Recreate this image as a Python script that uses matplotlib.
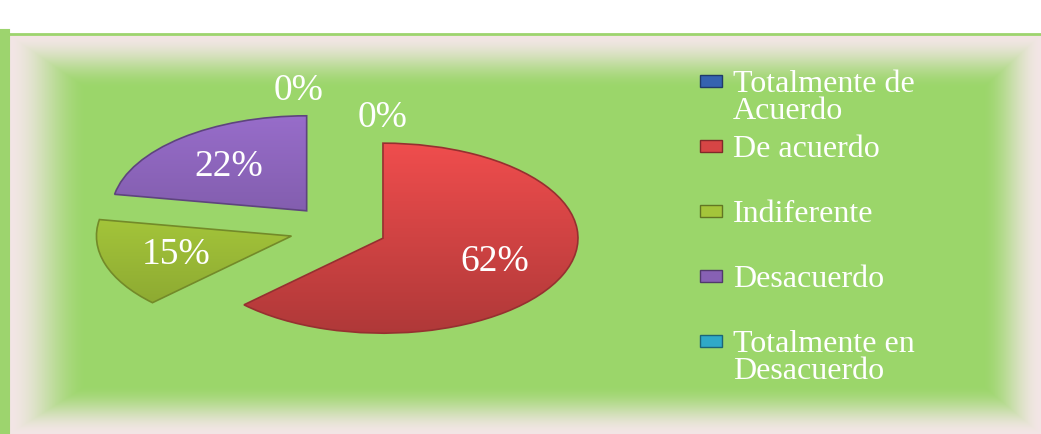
import numpy as np
import matplotlib.pyplot as plt
from matplotlib.colors import to_rgb
from matplotlib.patches import Rectangle

# data
categories = ['Totalmente de Acuerdo', 'De acuerdo', 'Indiferente',
              'Desacuerdo', 'Totalmente en Desacuerdo']
legend_labels = ['Totalmente de\nAcuerdo', 'De acuerdo', 'Indiferente',
                 'Desacuerdo', 'Totalmente en\nDesacuerdo']
values = [0, 62, 15, 22, 0]
colors = ['#3563B0', '#D64545', '#A4C53A', '#8761B4', '#2FA9C8']

plt.rcParams['font.family'] = ['Liberation Serif', 'DejaVu Serif']

W, H = 1041, 435
fig = plt.figure(figsize=(W / 100, H / 100), dpi=100)
fig.patch.set_facecolor('white')

# green panel with pale glow at the edges
bg = fig.add_axes([8 / W, 0, 1 - 8 / W, 400 / H])
bg.set_axis_off()
nx, ny = 1033, 400
xx, yy = np.meshgrid(np.arange(nx), np.arange(ny))
d = np.minimum.reduce([xx / 80.0, (nx - xx) / 60.0, yy / 55.0, (ny - yy) / 50.0])
t = np.clip(d, 0, 1)
t = t * t * (3 - 2 * t)
edge = np.array([243, 230, 230]) / 255
green = np.array([155, 214, 106]) / 255
img = edge[None, None, :] * (1 - t[..., None]) + green[None, None, :] * t[..., None]
bg.imshow(img, aspect='auto', extent=(0, 1, 0, 1), origin='upper')
bg.set_xlim(0, 1)
bg.set_ylim(0, 1)
fig.add_artist(plt.Line2D([0, 1], [400.5 / H, 400.5 / H], color='#9DD46E', lw=2))
fig.add_artist(plt.Line2D([4 / W, 4 / W], [0, 400 / H], color='#9DD46E', lw=8))

# exploded pie, stretched into an ellipse
ax = fig.add_axes([26 / W, 53 / H, 624 / W, 304 / H])
explode = [0.25] * len(values)
wedges, texts = ax.pie(values, colors=colors, explode=explode, startangle=90,
                       counterclock=False, labels=[f'{v}%' for v in values],
                       labeldistance=0.62,
                       wedgeprops=dict(linewidth=1.2))
ax.set_aspect('auto')

# shading inside each slice
for w, c in zip(wedges, colors):
    base = np.array(to_rgb(c))
    w.set_edgecolor(tuple(base * 0.7))
    if w.theta2 - w.theta1 < 0.01:
        w.set_visible(False)
        continue
    grad = np.linspace(1.12, 0.82, 256)[:, None, None] * base[None, None, :]
    grad = np.clip(np.repeat(grad, 2, axis=1), 0, 1)
    cx, cy = w.center
    im = ax.imshow(grad, aspect='auto', extent=(cx - 1, cx + 1, cy - 1, cy + 1),
                   origin='upper', zorder=w.get_zorder() - 0.1)
    im.set_clip_path(w)
    w.set_facecolor('none')
ax.set_xlim(-1.6, 1.6)
ax.set_ylim(-1.6, 1.6)

zero_pos = [(-0.2, 1.47), (0.23, 1.18)]
k = 0
for txt, v in zip(texts, values):
    txt.set_color('white')
    txt.set_fontsize(27)
    txt.set_ha('center')
    txt.set_va('center')
    if v == 0:
        txt.set_position(zero_pos[k])
        k += 1

# legend: one entry every 65 px, marker level with the first line
for i, (lab, c) in enumerate(zip(legend_labels, colors)):
    y = 1 - (82 + 65 * i) / H
    fig.add_artist(Rectangle((700 / W, y - 6 / H), 22 / W, 12 / H,
                             transform=fig.transFigure, facecolor=c,
                             edgecolor=tuple(np.array(to_rgb(c)) * 0.6), lw=1))
    fig.text(733 / W, y + 12 / H, lab, color='white', fontsize=23,
             va='top', ha='left', linespacing=0.92)

fig.savefig('out.png', dpi=100, facecolor=fig.get_facecolor())
